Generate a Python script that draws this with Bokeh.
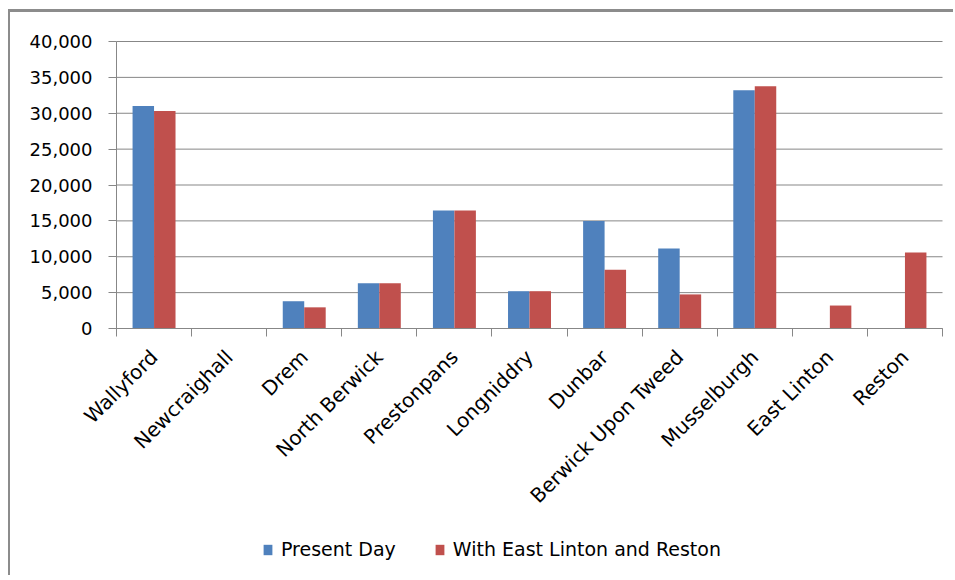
from bokeh.plotting import figure
from bokeh.models import (ColumnDataSource, Range1d, FixedTicker,
                          NumeralTickFormatter, Legend, LegendItem)
from bokeh.transform import dodge
from bokeh.embed import file_html
from bokeh.resources import INLINE
from math import pi

categories = ["Wallyford", "Newcraighall", "Drem", "North Berwick", "Prestonpans",
              "Longniddry", "Dunbar", "Berwick Upon Tweed", "Musselburgh",
              "East Linton", "Reston"]
present_day = [31000, 0, 3800, 6300, 16450, 5200, 15000, 11150, 33200, 0, 0]
with_east_linton_reston = [30300, 0, 2950, 6300, 16450, 5200, 8200, 4750, 33750, 3200, 10600]
series_names = ["Present Day", "With East Linton and Reston"]
y_tick_values = [0, 5000, 10000, 15000, 20000, 25000, 30000, 35000, 40000]

FONT = "DejaVu Sans"
GRID = "#878787"
BLUE = "#4F81BD"
RED = "#C0504D"

# layout (pixels on the canvas); the frame covers the whole canvas and the
# axes are pinned at value 0 so that nothing is clipped.
W, H = 945, 566
PLOT_L, PLOT_R = 106, 932     # canvas x of category axis start / end
PLOT_T, PLOT_B = 29, 316      # canvas y of y_max / 0

n = len(categories)
y_max = y_tick_values[-1]
uy = y_max / (PLOT_B - PLOT_T)
ux = n / (PLOT_R - PLOT_L)
x_lo, x_hi = -PLOT_L * ux, n + (W - PLOT_R) * ux
y_lo, y_hi = -(H - PLOT_B) * uy, y_max + PLOT_T * uy

centers = [i + 0.5 for i in range(n)]
bounds = list(range(n + 1))

src = ColumnDataSource(dict(x=centers, a=present_day, b=with_east_linton_reston))

p = figure(width=W, height=H, output_backend="svg", toolbar_location=None,
           x_range=Range1d(x_lo, x_hi), y_range=Range1d(y_lo, y_hi),
           min_border=0, background_fill_color="white",
           border_fill_color="white", outline_line_color=None)
p.styles = {"border-left": "2px solid #8c8c8c", "border-top": "3px solid #8c8c8c",
            "margin-top": "9px", "margin-left": "8px"}

# horizontal gridlines spanning the category axis only
grid_src = ColumnDataSource(dict(y=y_tick_values))
p.segment(x0=0, x1=n, y0="y", y1="y", source=grid_src, line_color=GRID,
          line_width=1, level="underlay")

w = 0.286
r1 = p.vbar(x=dodge("x", -w / 2, range=p.x_range), top="a", width=w, source=src,
            fill_color=BLUE, line_color=None)
r2 = p.vbar(x=dodge("x", w / 2, range=p.x_range), top="b", width=w, source=src,
            fill_color=RED, line_color=None)

# x axis, pinned at value 0
xa = p.xaxis[0]
xa.fixed_location = 0
xa.bounds = (0, n)
xa.ticker = FixedTicker(ticks=centers, minor_ticks=bounds)
xa.major_label_overrides = {c: name for c, name in zip(centers, categories)}
xa.major_label_orientation = pi / 4
xa.major_tick_line_color = None
xa.major_tick_out = 0
xa.major_tick_in = 0
xa.minor_tick_out = 8
xa.minor_tick_in = 0
xa.minor_tick_line_color = GRID
xa.axis_line_color = GRID
xa.major_label_standoff = 17
xa.major_label_text_font = FONT
xa.major_label_text_font_size = "20px"
xa.major_label_text_color = "black"

# y axis, pinned at category start
ya = p.yaxis[0]
ya.fixed_location = 0
ya.bounds = (0, y_max)
ya.ticker = FixedTicker(ticks=y_tick_values, minor_ticks=[])
ya.formatter = NumeralTickFormatter(format="0,0")
ya.major_tick_out = 8
ya.major_tick_in = 0
ya.major_tick_line_color = GRID
ya.minor_tick_line_color = None
ya.axis_line_color = GRID
ya.major_label_standoff = 16
ya.major_label_text_font = FONT
ya.major_label_text_font_size = "18px"
ya.major_label_text_color = "black"

p.xgrid.grid_line_color = None
p.ygrid.grid_line_color = None

legend = Legend(items=[LegendItem(label=series_names[0], renderers=[r1]),
                       LegendItem(label=series_names[1], renderers=[r2])],
                location=(PLOT_L + 146, 18), orientation="horizontal",
                padding=0, margin=0, spacing=38, label_standoff=8,
                glyph_width=11, glyph_height=13, label_height=20,
                label_text_font=FONT, label_text_font_size="19px",
                label_text_color="black",
                border_line_color=None, background_fill_alpha=0)
p.add_layout(legend, "center")

open("out.html", "w").write(file_html(p, INLINE))
